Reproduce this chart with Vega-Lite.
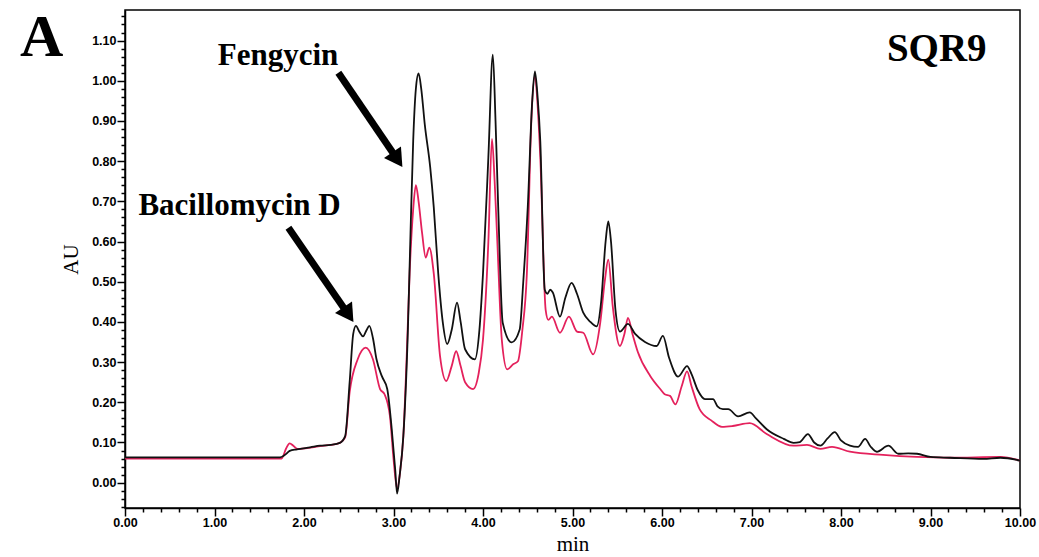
{
  "$schema": "https://vega.github.io/schema/vega-lite/v6.json",
  "width": 895,
  "height": 498,
  "autosize": {"type": "none"},
  "padding": {"left": 125, "top": 10, "right": 19, "bottom": 49},
  "background": "white",
  "config": {
    "view": {"stroke": "black", "strokeWidth": 1.5},
    "axis": {"grid": false, "domainColor": "black", "domainWidth": 1.5, "tickColor": "black", "tickWidth": 1.5, "labelColor": "black", "titleColor": "black"}
  },
  "datasets": {
    "black": [
      {"t": 0, "au": 0.063}, {"t": 1.0, "au": 0.063}, {"t": 1.73, "au": 0.063}, {"t": 1.78, "au": 0.068},
      {"t": 1.84, "au": 0.079}, {"t": 1.92, "au": 0.083}, {"t": 2.07, "au": 0.088}, {"t": 2.18, "au": 0.092},
      {"t": 2.3, "au": 0.094}, {"t": 2.4, "au": 0.099}, {"t": 2.46, "au": 0.116}, {"t": 2.51, "au": 0.25},
      {"t": 2.55, "au": 0.37}, {"t": 2.58, "au": 0.39}, {"t": 2.62, "au": 0.375}, {"t": 2.66, "au": 0.364},
      {"t": 2.7, "au": 0.38}, {"t": 2.73, "au": 0.39}, {"t": 2.77, "au": 0.36}, {"t": 2.81, "au": 0.307},
      {"t": 2.87, "au": 0.265}, {"t": 2.93, "au": 0.233}, {"t": 2.98, "au": 0.134}, {"t": 3.02, "au": 0.03},
      {"t": 3.04, "au": -0.027}, {"t": 3.07, "au": 0.02}, {"t": 3.11, "au": 0.116}, {"t": 3.16, "au": 0.374},
      {"t": 3.19, "au": 0.62}, {"t": 3.22, "au": 0.85}, {"t": 3.25, "au": 0.98}, {"t": 3.28, "au": 1.018},
      {"t": 3.31, "au": 0.98}, {"t": 3.35, "au": 0.89}, {"t": 3.41, "au": 0.785}, {"t": 3.45, "au": 0.685},
      {"t": 3.5, "au": 0.52}, {"t": 3.55, "au": 0.4}, {"t": 3.6, "au": 0.345}, {"t": 3.65, "au": 0.38},
      {"t": 3.71, "au": 0.448}, {"t": 3.75, "au": 0.4}, {"t": 3.8, "au": 0.332}, {"t": 3.91, "au": 0.307},
      {"t": 3.96, "au": 0.38}, {"t": 4.0, "au": 0.52}, {"t": 4.06, "au": 0.81}, {"t": 4.11, "au": 1.065},
      {"t": 4.14, "au": 0.9}, {"t": 4.17, "au": 0.685}, {"t": 4.22, "au": 0.398}, {"t": 4.32, "au": 0.349},
      {"t": 4.41, "au": 0.381}, {"t": 4.45, "au": 0.5}, {"t": 4.5, "au": 0.685}, {"t": 4.55, "au": 0.95},
      {"t": 4.58, "au": 1.023}, {"t": 4.61, "au": 0.96}, {"t": 4.64, "au": 0.85}, {"t": 4.69, "au": 0.48},
      {"t": 4.72, "au": 0.47}, {"t": 4.75, "au": 0.48}, {"t": 4.78, "au": 0.473}, {"t": 4.86, "au": 0.413},
      {"t": 4.92, "au": 0.46}, {"t": 4.99, "au": 0.497}, {"t": 5.05, "au": 0.47}, {"t": 5.12, "au": 0.423},
      {"t": 5.2, "au": 0.4}, {"t": 5.27, "au": 0.389}, {"t": 5.32, "au": 0.45}, {"t": 5.37, "au": 0.6},
      {"t": 5.4, "au": 0.65}, {"t": 5.43, "au": 0.6}, {"t": 5.48, "au": 0.43}, {"t": 5.53, "au": 0.376},
      {"t": 5.62, "au": 0.395}, {"t": 5.7, "au": 0.37}, {"t": 5.81, "au": 0.35}, {"t": 5.94, "au": 0.34},
      {"t": 6.01, "au": 0.365}, {"t": 6.08, "au": 0.31}, {"t": 6.18, "au": 0.264}, {"t": 6.28, "au": 0.29},
      {"t": 6.33, "au": 0.27}, {"t": 6.4, "au": 0.23}, {"t": 6.48, "au": 0.208}, {"t": 6.57, "au": 0.208},
      {"t": 6.62, "au": 0.19}, {"t": 6.68, "au": 0.183}, {"t": 6.74, "au": 0.183}, {"t": 6.85, "au": 0.165},
      {"t": 6.98, "au": 0.175}, {"t": 7.05, "au": 0.16}, {"t": 7.17, "au": 0.133}, {"t": 7.36, "au": 0.109},
      {"t": 7.47, "au": 0.099}, {"t": 7.54, "au": 0.101}, {"t": 7.63, "au": 0.121}, {"t": 7.7, "au": 0.1},
      {"t": 7.77, "au": 0.092}, {"t": 7.85, "au": 0.11}, {"t": 7.93, "au": 0.126}, {"t": 8.0, "au": 0.105},
      {"t": 8.1, "au": 0.092}, {"t": 8.19, "au": 0.089}, {"t": 8.27, "au": 0.109}, {"t": 8.33, "au": 0.09},
      {"t": 8.4, "au": 0.077}, {"t": 8.53, "au": 0.092}, {"t": 8.64, "au": 0.072}, {"t": 8.75, "au": 0.073},
      {"t": 8.85, "au": 0.072}, {"t": 9.0, "au": 0.064}, {"t": 9.22, "au": 0.062}, {"t": 9.59, "au": 0.059},
      {"t": 9.78, "au": 0.062}, {"t": 10.0, "au": 0.055}
    ],
    "red": [
      {"t": 0, "au": 0.06}, {"t": 1.0, "au": 0.06}, {"t": 1.75, "au": 0.06}, {"t": 1.8, "au": 0.085},
      {"t": 1.84, "au": 0.098}, {"t": 1.88, "au": 0.092}, {"t": 1.93, "au": 0.084}, {"t": 2.07, "au": 0.087},
      {"t": 2.18, "au": 0.091}, {"t": 2.3, "au": 0.094}, {"t": 2.4, "au": 0.099}, {"t": 2.46, "au": 0.113},
      {"t": 2.51, "au": 0.225}, {"t": 2.6, "au": 0.307}, {"t": 2.69, "au": 0.336}, {"t": 2.77, "au": 0.307},
      {"t": 2.85, "au": 0.233}, {"t": 2.9, "au": 0.22}, {"t": 2.96, "au": 0.166}, {"t": 3.0, "au": 0.06},
      {"t": 3.04, "au": -0.015}, {"t": 3.07, "au": 0.02}, {"t": 3.11, "au": 0.116}, {"t": 3.15, "au": 0.33},
      {"t": 3.18, "au": 0.52}, {"t": 3.22, "au": 0.68}, {"t": 3.25, "au": 0.74}, {"t": 3.28, "au": 0.7},
      {"t": 3.32, "au": 0.62}, {"t": 3.36, "au": 0.56}, {"t": 3.4, "au": 0.585}, {"t": 3.45, "au": 0.52},
      {"t": 3.52, "au": 0.315}, {"t": 3.59, "au": 0.253}, {"t": 3.65, "au": 0.29}, {"t": 3.7, "au": 0.327},
      {"t": 3.75, "au": 0.29}, {"t": 3.8, "au": 0.25}, {"t": 3.89, "au": 0.233}, {"t": 3.95, "au": 0.27},
      {"t": 4.0, "au": 0.356}, {"t": 4.06, "au": 0.6}, {"t": 4.1, "au": 0.855}, {"t": 4.13, "au": 0.75},
      {"t": 4.16, "au": 0.6}, {"t": 4.21, "au": 0.356}, {"t": 4.27, "au": 0.282}, {"t": 4.34, "au": 0.295},
      {"t": 4.39, "au": 0.302}, {"t": 4.44, "au": 0.38}, {"t": 4.49, "au": 0.52}, {"t": 4.54, "au": 0.9},
      {"t": 4.58, "au": 1.012}, {"t": 4.61, "au": 0.94}, {"t": 4.64, "au": 0.81}, {"t": 4.7, "au": 0.43},
      {"t": 4.73, "au": 0.405}, {"t": 4.77, "au": 0.413}, {"t": 4.86, "au": 0.373}, {"t": 4.96, "au": 0.413},
      {"t": 5.05, "au": 0.376}, {"t": 5.12, "au": 0.373}, {"t": 5.23, "au": 0.319}, {"t": 5.31, "au": 0.398},
      {"t": 5.36, "au": 0.5}, {"t": 5.4, "au": 0.555}, {"t": 5.45, "au": 0.438}, {"t": 5.53, "au": 0.34},
      {"t": 5.58, "au": 0.37}, {"t": 5.62, "au": 0.41}, {"t": 5.67, "au": 0.37}, {"t": 5.73, "au": 0.325},
      {"t": 5.87, "au": 0.265}, {"t": 5.98, "au": 0.233}, {"t": 6.03, "au": 0.22}, {"t": 6.09, "au": 0.216},
      {"t": 6.15, "au": 0.195}, {"t": 6.22, "au": 0.24}, {"t": 6.28, "au": 0.277}, {"t": 6.33, "au": 0.24},
      {"t": 6.42, "au": 0.183}, {"t": 6.55, "au": 0.155}, {"t": 6.67, "au": 0.139}, {"t": 6.79, "au": 0.141},
      {"t": 6.98, "au": 0.148}, {"t": 7.17, "au": 0.121}, {"t": 7.47, "au": 0.092}, {"t": 7.62, "au": 0.094},
      {"t": 7.77, "au": 0.084}, {"t": 7.9, "au": 0.089}, {"t": 8.1, "au": 0.077}, {"t": 8.47, "au": 0.069},
      {"t": 8.85, "au": 0.064}, {"t": 9.22, "au": 0.062}, {"t": 9.78, "au": 0.064}, {"t": 10.0, "au": 0.055}
    ],
    "arrows": [
      {"label": "Fengycin", "x": 2.384, "y": 1.02, "x2": 3.044, "y2": 0.804},
      {"label": "Bacillomycin D", "x": 1.826, "y": 0.634, "x2": 2.497, "y2": 0.418}
    ],
    "labels": [
      {"text": "Fengycin", "x": 1.71, "y": 1.04},
      {"text": "Bacillomycin D", "x": 1.28, "y": 0.666}
    ],
    "tags": [
      {"text": "SQR9", "x": 9.07, "y": 1.05}
    ],
    "panel": [
      {"text": "A", "x": -0.93, "y": 1.062}
    ]
  },
  "resolve": {"axis": {"x": "independent", "y": "independent"}},
  "layer": [
    {
      "data": {"name": "red"},
      "mark": {"type": "line", "color": "#e4215c", "strokeWidth": 1.8, "interpolate": "monotone"},
      "encoding": {
        "x": {"field": "t", "type": "quantitative", "scale": {"domain": [0, 10], "nice": false, "zero": false},
          "axis": {"orient": "bottom", "values": [0, 1, 2, 3, 4, 5, 6, 7, 8, 9, 10], "format": ".2f", "tickSize": 8, "labelPadding": 0,
            "labelFont": "Liberation Sans", "labelFontWeight": "bold", "labelFontSize": 12.5, "labelFlush": false,
            "title": "min", "titleFont": "Liberation Serif", "titleFontSize": 21, "titleFontWeight": "normal", "titlePadding": 5}},
        "y": {"field": "au", "type": "quantitative", "scale": {"domain": [-0.063, 1.176], "nice": false, "zero": false},
          "axis": {"orient": "left", "values": [0, 0.1, 0.2, 0.3, 0.4, 0.5, 0.6, 0.7, 0.8, 0.9, 1.0, 1.1], "format": ".2f", "tickSize": 8, "labelPadding": 1,
            "labelFont": "Liberation Sans", "labelFontWeight": "bold", "labelFontSize": 12.5, "labelFlush": false,
            "title": "AU", "titleFont": "Liberation Serif", "titleFontSize": 21, "titleFontWeight": "normal", "titlePadding": 10}}
      }
    },
    {
      "data": {"name": "black"},
      "mark": {"type": "line", "color": "#111111", "strokeWidth": 1.8, "interpolate": "monotone"},
      "encoding": {
        "x": {"field": "t", "type": "quantitative",
          "axis": {"orient": "bottom", "values": [0.2, 0.4, 0.6, 0.8, 1.2, 1.4, 1.6, 1.8, 2.2, 2.4, 2.6, 2.8, 3.2, 3.4, 3.6, 3.8, 4.2, 4.4, 4.6, 4.8, 5.2, 5.4, 5.6, 5.8, 6.2, 6.4, 6.6, 6.8, 7.2, 7.4, 7.6, 7.8, 8.2, 8.4, 8.6, 8.8, 9.2, 9.4, 9.6, 9.8],
            "labels": false, "domain": false, "tickSize": 4, "title": null}},
        "y": {"field": "au", "type": "quantitative",
          "axis": {"orient": "left", "values": [-0.06, -0.04, -0.02, 0.02, 0.04, 0.06, 0.08, 0.12, 0.14, 0.16, 0.18, 0.22, 0.24, 0.26, 0.28, 0.32, 0.34, 0.36, 0.38, 0.42, 0.44, 0.46, 0.48, 0.52, 0.54, 0.56, 0.58, 0.62, 0.64, 0.66, 0.68, 0.72, 0.74, 0.76, 0.78, 0.82, 0.84, 0.86, 0.88, 0.92, 0.94, 0.96, 0.98, 1.02, 1.04, 1.06, 1.08, 1.12, 1.14, 1.16],
            "labels": false, "domain": false, "tickSize": 4, "title": null}}
      }
    },
    {
      "data": {"name": "arrows"},
      "mark": {"type": "rule", "color": "black", "strokeWidth": 7},
      "encoding": {
        "x": {"field": "x", "type": "quantitative", "axis": null},
        "y": {"field": "y", "type": "quantitative", "axis": null},
        "x2": {"field": "x2"},
        "y2": {"field": "y2"}
      }
    },
    {
      "data": {"name": "arrows"},
      "mark": {"type": "point", "shape": "triangle-up", "filled": true, "color": "black", "opacity": 1, "size": 420, "angle": 146},
      "encoding": {
        "x": {"field": "x2", "type": "quantitative", "axis": null},
        "y": {"field": "y2", "type": "quantitative", "axis": null}
      }
    },
    {
      "data": {"name": "labels"},
      "mark": {"type": "text", "font": "Liberation Serif", "fontWeight": "bold", "fontSize": 31, "align": "center", "baseline": "alphabetic", "color": "black"},
      "encoding": {
        "x": {"field": "x", "type": "quantitative", "axis": null},
        "y": {"field": "y", "type": "quantitative", "axis": null},
        "text": {"field": "text"}
      }
    },
    {
      "data": {"name": "tags"},
      "mark": {"type": "text", "font": "Liberation Serif", "fontWeight": "bold", "fontSize": 39, "align": "center", "baseline": "alphabetic", "color": "black"},
      "encoding": {
        "x": {"field": "x", "type": "quantitative", "axis": null},
        "y": {"field": "y", "type": "quantitative", "axis": null},
        "text": {"field": "text"}
      }
    },
    {
      "data": {"name": "panel"},
      "mark": {"type": "text", "font": "Liberation Serif", "fontWeight": "bold", "fontSize": 60, "align": "center", "baseline": "alphabetic", "color": "black"},
      "encoding": {
        "x": {"field": "x", "type": "quantitative", "axis": null},
        "y": {"field": "y", "type": "quantitative", "axis": null},
        "text": {"field": "text"}
      }
    }
  ]
}
